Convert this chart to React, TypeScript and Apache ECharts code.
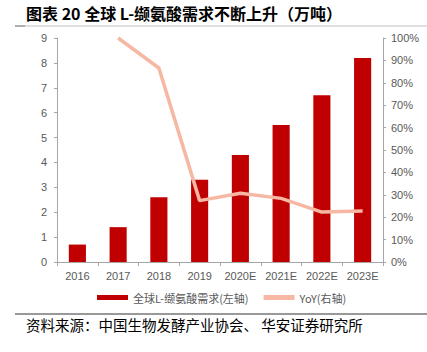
import React, { useEffect, useRef } from "react";
import * as echarts from "echarts";

const categories = ["2016", "2017", "2018", "2019", "2020E", "2021E", "2022E", "2023E"];
const demand = [0.7, 1.4, 2.6, 3.3, 4.3, 5.5, 6.7, 8.2];
const yoy = [null, 1.0, 0.866, 0.274, 0.307, 0.284, 0.223, 0.228];
const leftTicks = { min: 0, max: 9, interval: 1 };
const rightTicks = { min: 0, max: 1, interval: 0.1 };

const title = "图表 20 全球 L-缬氨酸需求不断上升（万吨）";
const source = "资料来源：中国生物发酵产业协会、 华安证券研究所";
const barName = "全球L-缬氨酸需求(左轴)";
const lineName = "YoY(右轴)";

export default function App() {
  const ref = useRef<HTMLDivElement>(null);
  useEffect(() => {
    const chart = echarts.init(ref.current!, null, { renderer: "svg" });
    const axisColor = "#a6a6a6";
    const labelColor = "#595959";
    chart.setOption({
      animation: false,
      backgroundColor: "#ffffff",
      textStyle: { fontFamily: "Liberation Sans, Arial, sans-serif" },
      grid: { left: 57, right: 44, top: 38, bottom: 90 },
      legend: {
        bottom: 44,
        left: 92,
        itemGap: 15,
        textStyle: { color: labelColor, fontSize: 11, fontFamily: "Noto Sans CJK SC" },
        data: [
          { name: barName, icon: "rect", itemStyle: { color: "#c00000" } },
          { name: lineName, icon: "rect" },
        ],
        itemWidth: 31,
        itemHeight: 5,
      },
      xAxis: {
        type: "category",
        data: categories,
        axisLine: { lineStyle: { color: axisColor } },
        axisTick: { show: true, length: 4, lineStyle: { color: axisColor } },
        axisLabel: { color: labelColor, fontSize: 11, margin: 8, interval: 0 },
      },
      yAxis: [
        {
          type: "value",
          ...leftTicks,
          axisLine: { show: true, lineStyle: { color: axisColor } },
          axisTick: { show: true, length: 3, lineStyle: { color: axisColor } },
          axisLabel: { color: labelColor, fontSize: 11, margin: 10 },
          splitLine: { show: false },
        },
        {
          type: "value",
          ...rightTicks,
          position: "right",
          axisLine: { show: true, lineStyle: { color: axisColor } },
          axisTick: { show: true, length: 3, lineStyle: { color: axisColor } },
          axisLabel: {
            color: labelColor,
            fontSize: 11,
            margin: 8,
            formatter: (v: number) => Math.round(v * 100) + "%",
          },
          splitLine: { show: false },
        },
      ],
      series: [
        {
          name: barName,
          type: "bar",
          data: demand,
          barWidth: "42%",
          itemStyle: { color: "#c00000" },
          yAxisIndex: 0,
        },
        {
          name: lineName,
          type: "line",
          data: yoy,
          yAxisIndex: 1,
          symbol: "none",
          lineStyle: { color: "#f6b8a2", width: 3.5 },
          itemStyle: { color: "#f6b8a2" },
          clip: false,
        },
      ],
      graphic: [
        {
          type: "text",
          left: 26,
          top: 3,
          style: {
            text: title,
            fontSize: 16,
            lineHeight: 19,
            fontWeight: "bold",
            fill: "#000",
            fontFamily: "Noto Sans CJK SC",
          },
        },
        {
          type: "line",
          shape: { x1: 15, y1: 26, x2: 427, y2: 26 },
          style: { stroke: "#bfbfbf", lineWidth: 1 },
        },
        {
          type: "line",
          shape: { x1: 15, y1: 26, x2: 25, y2: 26 },
          style: { stroke: "#7f7f7f", lineWidth: 1 },
        },
        {
          type: "line",
          shape: { x1: 15, y1: 314, x2: 427, y2: 314 },
          style: { stroke: "#333", lineWidth: 1 },
        },
        {
          type: "text",
          left: 26,
          top: 317,
          style: {
            text: source,
            fontSize: 14.5,
            fill: "#000",
            fontFamily: "Noto Sans CJK SC",
          },
        },
      ],
    });
    return () => chart.dispose();
  }, []);
  return <div ref={ref} style={{ width: 427, height: 352, position: "fixed", left: 0, top: 0 }} />;
}
